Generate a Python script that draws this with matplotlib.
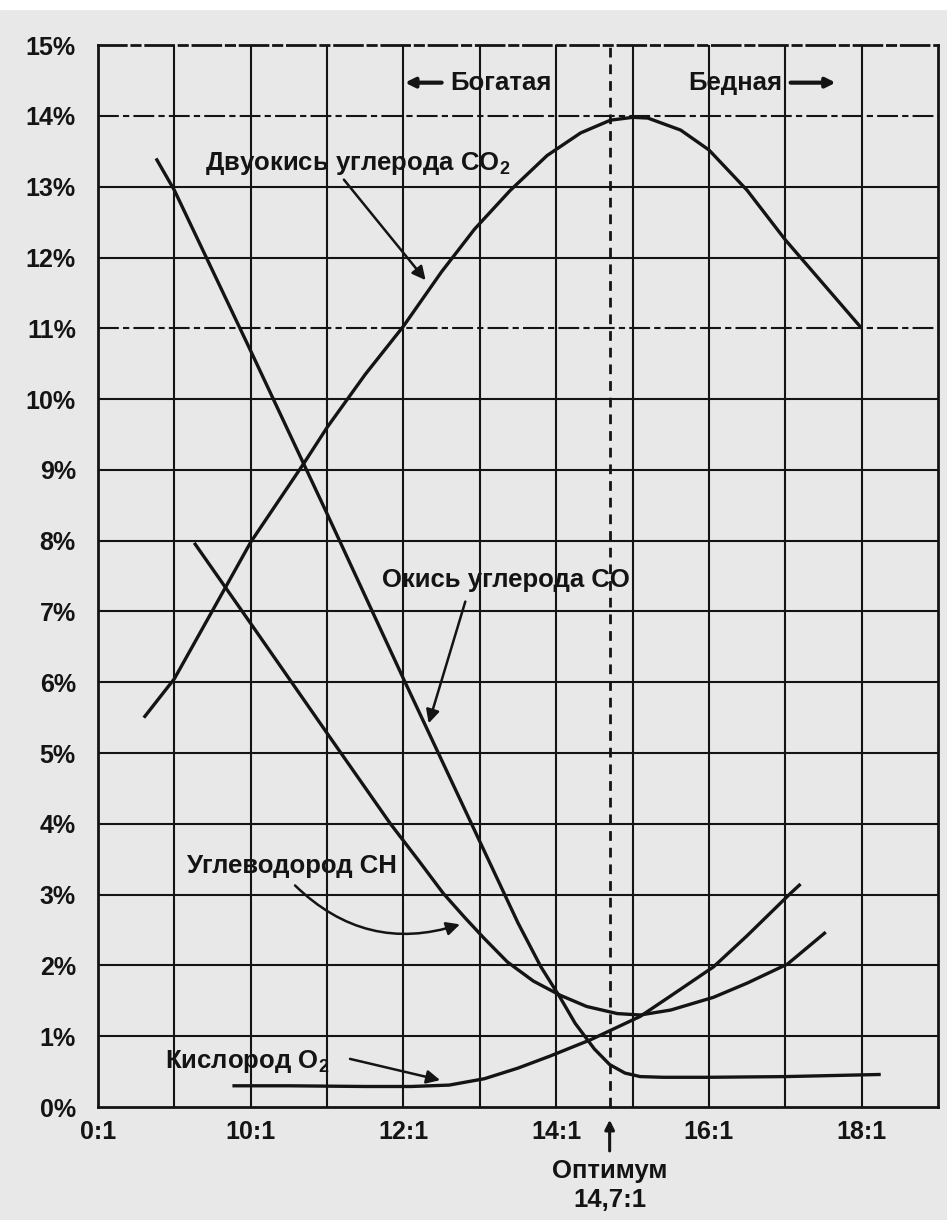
import matplotlib
matplotlib.use("Agg")
import matplotlib.pyplot as plt

# air/fuel ratio (x) vs. exhaust gas content, %
co2_x = [8.6, 9.0, 9.7, 10.0, 10.7, 11.0, 11.5, 12.0, 12.5, 12.93, 13.4, 13.88, 14.32, 14.71, 15.0, 15.2, 15.63, 16.0, 16.5, 17.0, 17.6, 18.0]
co2_y = [5.5, 6.05, 7.4, 7.98, 9.1, 9.6, 10.35, 11.03, 11.8, 12.4, 12.95, 13.44, 13.76, 13.94, 13.98, 13.97, 13.8, 13.52, 12.95, 12.25, 11.5, 11.0]

co_x = [8.76, 9.0, 10.0, 11.0, 12.0, 13.0, 13.5, 13.8, 14.05, 14.25, 14.5, 14.7, 14.9, 15.1, 15.4, 16.0, 17.0, 18.25]
co_y = [13.4, 12.95, 10.68, 8.38, 6.05, 3.75, 2.6, 1.98, 1.55, 1.18, 0.82, 0.6, 0.48, 0.43, 0.42, 0.42, 0.43, 0.46]

ch_x = [9.26, 10.0, 11.0, 11.83, 12.2, 12.52, 12.8, 13.05, 13.36, 13.7, 14.05, 14.4, 14.8, 15.1, 15.5, 16.06, 16.5, 17.03, 17.53]
ch_y = [7.97, 6.83, 5.28, 4.0, 3.48, 3.02, 2.68, 2.39, 2.05, 1.78, 1.58, 1.42, 1.32, 1.3, 1.37, 1.55, 1.75, 2.02, 2.47]

o2_x = [9.76, 10.5, 11.5, 12.1, 12.6, 13.06, 13.5, 13.92, 14.45, 15.1, 15.5, 16.06, 16.5, 17.07, 17.2]
o2_y = [0.3, 0.3, 0.29, 0.29, 0.31, 0.4, 0.55, 0.72, 0.95, 1.28, 1.57, 1.98, 2.42, 3.02, 3.15]

x_ticks = [8, 10, 12, 14, 16, 18]
x_labels = ["0:1", "10:1", "12:1", "14:1", "16:1", "18:1"]
y_ticks = list(range(0, 16))
y_labels = [f"{v}%" for v in y_ticks]
optimum = 14.7

plt.rcParams['font.family'] = ['Liberation Sans', 'DejaVu Sans']
plt.rcParams['font.weight'] = 'bold'
plt.rcParams['mathtext.fontset'] = 'custom'
plt.rcParams['mathtext.rm'] = 'Liberation Sans:bold'
plt.rcParams['mathtext.it'] = 'Liberation Sans:bold'
plt.rcParams['mathtext.bf'] = 'Liberation Sans:bold'

bg = '#e8e8e8'
ink = '#141414'

fig = plt.figure(figsize=(9.47, 12.2), dpi=100, facecolor=bg)
# thin white strip along the top edge of the scan
fig.patches.append(plt.Rectangle((0, 0.993), 1, 0.007, transform=fig.transFigure,
                                 color='white', zorder=0))
ax = fig.add_axes([0.1035, 0.0926, 0.887, 0.8704])
ax.set_facecolor(bg)
ax.set_xlim(8, 19)
ax.set_ylim(0, 15)

# grid
for gx in range(9, 19):
    ax.axvline(gx, color=ink, lw=1.5, zorder=1)
for gy in range(1, 15):
    style = (0, (10, 2, 3, 2)) if gy in (11, 14) else '-'
    ax.axhline(gy, color=ink, lw=1.5, ls=style, zorder=1)
ax.axvline(optimum, color=ink, lw=2.0, ls=(0, (3.5, 2.5)), zorder=1)

for name, sp in ax.spines.items():
    sp.set_color(ink)
    sp.set_linewidth(2.0)
ax.spines['top'].set_linestyle((0, (10, 2, 3, 2)))

# curves
for xs, ys in [(co2_x, co2_y), (co_x, co_y), (ch_x, ch_y), (o2_x, o2_y)]:
    ax.plot(xs, ys, color=ink, lw=2.4, solid_capstyle='butt', solid_joinstyle='round', zorder=3)

ax.set_xticks(x_ticks)
ax.set_xticklabels(x_labels)
ax.set_yticks(y_ticks)
ax.set_yticklabels(y_labels)
ax.tick_params(length=0, labelsize=18, colors=ink)
ax.tick_params(axis='y', pad=16)
ax.tick_params(axis='x', pad=9)

arrow = dict(arrowstyle='-|>', lw=1.8, color=ink, mutation_scale=20, shrinkA=0, shrinkB=0)
fs = 18.5

ax.text(9.40, 13.33, "Двуокись углерода CO$_2$", fontsize=fs, va='center', ha='left', color=ink)
ax.annotate('', xy=(12.29, 11.68), xytext=(11.22, 13.1), arrowprops=arrow)

ax.text(11.72, 7.44, "Окись углерода CO", fontsize=fs, va='center', ha='left', color=ink)
ax.annotate('', xy=(12.33, 5.42), xytext=(12.81, 7.14), arrowprops=arrow)

ax.text(9.17, 3.41, "Углеводород CH", fontsize=fs, va='center', ha='left', color=ink)
ax.annotate('', xy=(12.74, 2.58), xytext=(10.58, 3.13),
            arrowprops=dict(arrow, connectionstyle='arc3,rad=0.3'))

ax.text(8.88, 0.64, "Кислород O$_2$", fontsize=fs, va='center', ha='left', color=ink)
ax.annotate('', xy=(12.48, 0.38), xytext=(11.3, 0.68), arrowprops=arrow)

ax.text(12.61, 14.47, "Богатая", fontsize=fs, va='center', ha='left', color=ink)
ax.annotate('', xy=(12.02, 14.47), xytext=(12.5, 14.47),
            arrowprops=dict(arrow, lw=3, mutation_scale=14))
ax.text(15.73, 14.47, "Бедная", fontsize=fs, va='center', ha='left', color=ink)
ax.annotate('', xy=(17.66, 14.47), xytext=(17.07, 14.47),
            arrowprops=dict(arrow, lw=3, mutation_scale=14))

ax.annotate('', xy=(optimum, -0.18), xytext=(optimum, -0.62),
            arrowprops=dict(arrow, lw=2.2, mutation_scale=14), annotation_clip=False)
ax.text(optimum, -0.9, "Оптимум", fontsize=fs, ha='center', va='center', color=ink, clip_on=False)
ax.text(optimum, -1.32, "14,7:1", fontsize=fs, ha='center', va='center', color=ink, clip_on=False)

fig.savefig("out.png", dpi=100, facecolor=bg)
